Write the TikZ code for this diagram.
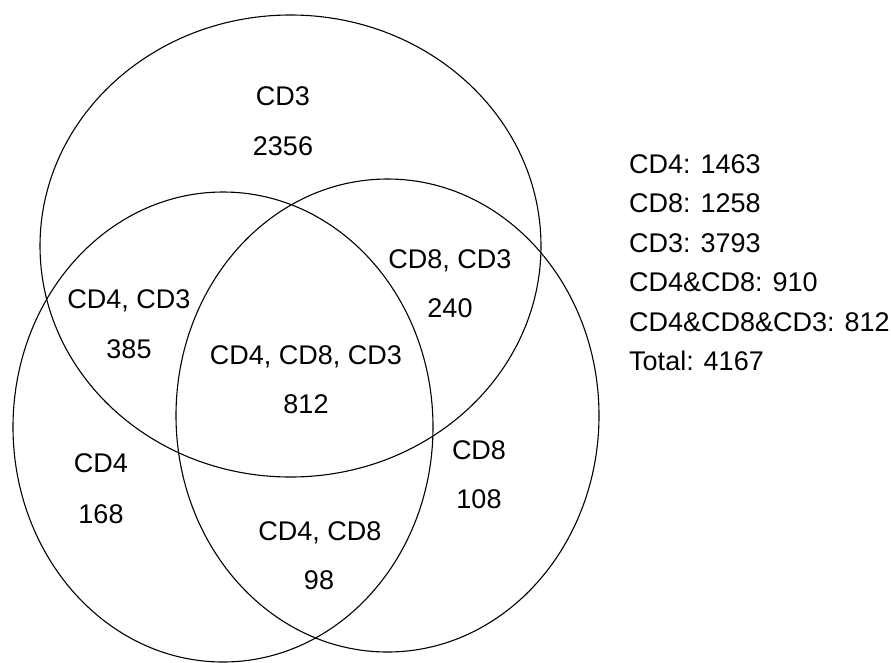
\documentclass[tikz,border=0pt]{standalone}
\usepackage{fontspec}
\setmainfont{Liberation Sans}
\begin{document}
\begin{tikzpicture}[x=1pt,y=-1pt,
  setline/.style={draw=black,line width=1.1pt},
  lbl/.style={inner sep=0pt,anchor=base,font=\fontsize{27}{32}\selectfont},
  leg/.style={inner sep=0pt,anchor=base west,font=\fontsize{27}{32}\selectfont}]
\useasboundingbox[fill=white] (0,0) rectangle (891,662);
% sets
\draw[setline] (290.5,246) ellipse [x radius=250.5pt, y radius=231pt];
\draw[setline] (223,427) ellipse [x radius=210pt, y radius=235pt];
\draw[setline] (387.5,415.5) ellipse [x radius=211.5pt, y radius=236.5pt];
% region labels
\node[lbl] (cdthree) at (283,105) {CD3};
\node[lbl] (nthree) at (283,155) {2356};
\node[lbl] (cdfourthree) at (129,308) {CD4, CD3};
\node[lbl] (nfourthree) at (129,358) {385};
\node[lbl] (cdeightthree) at (450,268) {CD8, CD3};
\node[lbl] (neightthree) at (450,317) {240};
\node[lbl] (cdall) at (306,364) {CD4, CD8, CD3};
\node[lbl] (nall) at (306,413) {812};
\node[lbl] (cdfour) at (101,472) {CD4};
\node[lbl] (nfour) at (101,523) {168};
\node[lbl] (cdeight) at (479,459) {CD8};
\node[lbl] (neight) at (479,508) {108};
\node[lbl] (cdfoureight) at (320,540) {CD4, CD8};
\node[lbl] (nfoureight) at (319,589) {98};
% legend
\node[leg] (l1) at (629,173) {CD4: 1463};
\node[leg] (l2) at (629,212.5) {CD8: 1258};
\node[leg] (l3) at (629,252) {CD3: 3793};
\node[leg] (l4) at (629,291.5) {CD4\&CD8: 910};
\node[leg] (l5) at (629,331) {CD4\&CD8\&CD3: 812};
\node[leg] (l6) at (629,370.5) {Total: 4167};
\end{tikzpicture}
\end{document}
